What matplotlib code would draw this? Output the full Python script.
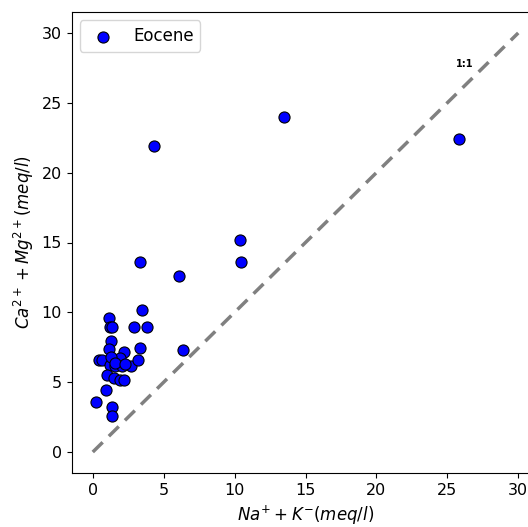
import matplotlib
matplotlib.use('Agg')
import matplotlib.pyplot as plt

# Eocene samples: Na+ + K (x) vs Ca2+ + Mg2+ (y), meq/l
na_k = [25.8, 13.5, 4.35, 10.4, 10.45, 3.36, 6.05, 3.5, 1.17, 1.24, 1.35, 2.93, 3.83,
        1.28, 1.17, 3.36, 6.38, 2.18, 0.41, 0.65, 1.43, 1.9, 1.19, 1.59, 2.06, 2.7,
        3.22, 1.0, 1.47, 1.94, 2.18, 0.91, 0.25, 1.36, 1.36, 1.3, 1.6, 2.3]
ca_mg = [22.4, 24.0, 21.9, 15.2, 13.6, 13.6, 12.6, 10.2, 9.6, 8.95, 8.95, 8.95, 8.95,
         7.93, 7.36, 7.43, 7.34, 7.16, 6.57, 6.57, 6.52, 6.76, 6.21, 6.14, 6.14, 6.14,
         6.62, 5.55, 5.33, 5.14, 5.14, 4.43, 3.55, 3.21, 2.55, 6.8, 6.4, 6.3]

fig = plt.figure(figsize=(5.28, 5.27), dpi=100)
ax = fig.add_axes([71.5/528, 54/527, 468/528, 461/527])

ax.plot([0, 30], [0, 30], color='gray', linestyle='--', linewidth=2.5, dashes=(4, 2.5))
ax.scatter(na_k, ca_mg, s=64, color='blue', edgecolor='black', linewidth=0.8,
           label='Eocene', zorder=3)
ax.text(26.2, 27.8, '1:1', fontsize=7, fontweight='bold', ha='center', va='center')

ax.set_xlim(-1.5, 31.5)
ax.set_ylim(-1.5, 31.5)
ax.set_xticks(range(0, 31, 5))
ax.set_yticks(range(0, 31, 5))
ax.tick_params(labelsize=11.5)
ax.set_xlabel(r'$Na^{+} + K^{-}(meq/l)$', fontsize=12)
ax.set_ylabel(r'$Ca^{2+} + Mg^{2+}(meq/l)$', fontsize=12)
ax.legend(loc='upper left', fontsize=12)

fig.savefig('out.png', dpi=100)
